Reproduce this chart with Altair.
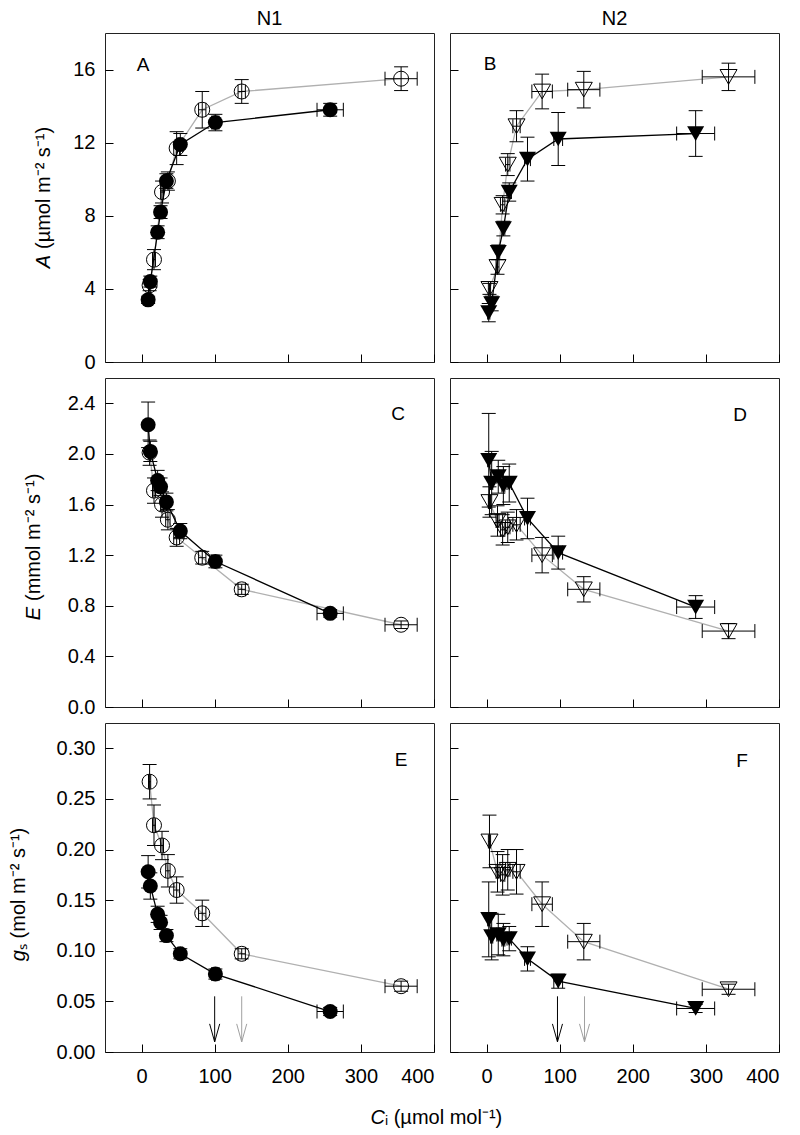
import altair as alt
import pandas as pd

# ---------------- data ----------------
# N1 -- filled circles (black line)
n1f_ci = [9, 12, 22, 26, 34, 53, 101, 258]
n1f_ci_err = [1.5, 1.5, 2, 2, 2, 3, 5, 18]
n1f_A = [3.4, 4.4, 7.1, 8.2, 9.9, 11.9, 13.1, 13.8]
n1f_A_err = [0.2, 0.3, 0.35, 0.35, 0.4, 0.6, 0.45, 0.35]
n1f_E = [2.23, 2.02, 1.79, 1.74, 1.62, 1.39, 1.15, 0.74]
n1f_E_err = [0.18, 0.08, 0.08, 0.07, 0.07, 0.06, 0.05, 0.03]
n1f_gs = [0.178, 0.164, 0.136, 0.128, 0.115, 0.097, 0.077, 0.040]
n1f_gs_err = [0.016, 0.013, 0.008, 0.007, 0.006, 0.005, 0.005, 0.004]

# N1 -- open circles (grey line)
n1o_ci = [11, 17, 28, 36, 48, 83, 137, 355]
n1o_ci_err = [1.5, 2, 2, 3, 4, 5, 5, 22]
n1o_A = [4.2, 5.6, 9.3, 9.9, 11.7, 13.8, 14.8, 15.5]
n1o_A_err = [0.3, 0.55, 0.6, 0.5, 0.9, 1.0, 0.65, 0.65]
n1o_E = [2.01, 1.71, 1.60, 1.48, 1.34, 1.18, 0.93, 0.65]
n1o_E_err = [0.1, 0.1, 0.1, 0.08, 0.07, 0.05, 0.04, 0.03]
n1o_gs = [0.267, 0.224, 0.204, 0.179, 0.160, 0.137, 0.097, 0.065]
n1o_gs_err = [0.017, 0.02, 0.014, 0.016, 0.013, 0.013, 0.005, 0.005]

# N2 -- filled triangles (black line)
n2f_ci = [3, 7, 16, 23, 31, 56, 98, 286]
n2f_ci_err = [1.5, 1.5, 2, 2, 3, 4, 6, 26]
n2f_A = [2.7, 3.2, 6.0, 7.3, 9.3, 11.1, 12.2, 12.5]
n2f_A_err = [0.5, 0.4, 0.4, 0.4, 0.5, 1.2, 1.45, 1.25]
n2f_E = [1.95, 1.77, 1.82, 1.75, 1.77, 1.49, 1.22, 0.79]
n2f_E_err = [0.37, 0.25, 0.13, 0.15, 0.15, 0.16, 0.13, 0.09]
n2f_gs = [0.131, 0.114, 0.116, 0.111, 0.112, 0.092, 0.070, 0.043]
n2f_gs_err = [0.037, 0.023, 0.02, 0.016, 0.012, 0.012, 0.007, 0.004]

# N2 -- open triangles (grey line)
n2o_ci = [4, 15, 22, 29, 41, 76, 133, 331]
n2o_ci_err = [1.5, 2, 3, 3, 5, 14, 22, 36]
n2o_A = [4.0, 5.2, 8.6, 10.8, 12.9, 14.8, 14.9, 15.6]
n2o_A_err = [0.3, 0.4, 0.5, 0.6, 0.85, 0.95, 1.0, 0.75]
n2o_E = [1.62, 1.47, 1.40, 1.42, 1.44, 1.20, 0.93, 0.60]
n2o_E_err = [0.12, 0.12, 0.12, 0.12, 0.12, 0.14, 0.1, 0.06]
n2o_gs = [0.208, 0.178, 0.175, 0.180, 0.178, 0.146, 0.109, 0.062]
n2o_gs_err = [0.026, 0.02, 0.02, 0.02, 0.022, 0.022, 0.018, 0.005]

# arrows in the gs panels (Ci positions; arrow from top to tip in gs units)
arrow_series = ["filled", "open"]
arrow_ci_n1 = [100, 137]
arrow_ci_n2 = [97, 134]
arrow_top = [0.055, 0.055]
arrow_tip = [0.010, 0.010]

x_ticks = [0, 100, 200, 300, 400]
A_ticks = [0, 4, 8, 12, 16]
E_ticks = [0, 0.4, 0.8, 1.2, 1.6, 2.0, 2.4]
gs_ticks = [0, 0.05, 0.10, 0.15, 0.20, 0.25, 0.30]

# ---------------- styling ----------------
FONT = "Liberation Sans"
LFS = 20   # tick labels
TFS = 20   # titles / headers
W = 329
H = 329
XDOM = [-50, 400]
GREY = "#b0b0b0"
COLS = alt.Scale(domain=["filled", "open"], range=["#000000", "#a0a0a0"])
CAP = 7
NB = "\u00a0"


def sdf(ci, ci_err, y, y_err, name):
    return pd.DataFrame({
        "ci": ci,
        "y": y,
        "ci_lo": [c - e for c, e in zip(ci, ci_err)],
        "ci_hi": [c + e for c, e in zip(ci, ci_err)],
        "y_lo": [v - e for v, e in zip(y, y_err)],
        "y_hi": [v + e for v, e in zip(y, y_err)],
        "series": name,
    })


def txt(t, **kw):
    opts = dict(font=FONT, fontSize=TFS, color="black")
    opts.update(kw)
    return alt.Chart(pd.DataFrame({"t": [t]})).mark_text(text=t, **opts)


def panel(df_f, df_o, shape, size, ydom, yvals, yfmt, left, bottom, letter, lpos,
          ytitle=None, header=None, arrows=None, xtitle=False):
    xax = alt.Axis(values=x_ticks, labels=bottom, title=None, offset=-8, tickSize=8,
                   labelPadding=14, format="d")
    yax = alt.Axis(values=yvals, labels=left, title=None, offset=-8, tickSize=8,
                   labelPadding=10, format=yfmt)
    xs = alt.Scale(domain=XDOM, nice=False, zero=False)
    ys = alt.Scale(domain=ydom, nice=False, zero=False)

    def X(f):
        return alt.X(f, type="quantitative", scale=xs, axis=xax)

    def Y(f):
        return alt.Y(f, type="quantitative", scale=ys, axis=yax)

    both = pd.concat([df_o, df_f], ignore_index=True)
    layers = []
    layers.append(alt.Chart(df_o).mark_line(color=GREY, strokeWidth=1.3).encode(x=X("ci"), y=Y("y")))
    layers.append(alt.Chart(df_f).mark_line(color="black", strokeWidth=1.3).encode(x=X("ci"), y=Y("y")))
    b = alt.Chart(both)
    # vertical error bars
    layers.append(b.mark_rule(color="black", strokeWidth=1).encode(x=X("ci"), y=Y("y_lo"), y2="y_hi"))
    layers.append(b.transform_fold(["y_lo", "y_hi"], as_=["k", "v"])
                  .mark_rule(color="black", strokeWidth=1, xOffset=-CAP, x2Offset=CAP)
                  .encode(x=X("ci"), x2="ci", y=Y("v:Q")))
    # horizontal error bars
    layers.append(b.mark_rule(color="black", strokeWidth=1).encode(x=X("ci_lo"), x2="ci_hi", y=Y("y")))
    layers.append(b.transform_fold(["ci_lo", "ci_hi"], as_=["k", "v"])
                  .mark_rule(color="black", strokeWidth=1, yOffset=-CAP, y2Offset=CAP)
                  .encode(x=X("v:Q"), y=Y("y"), y2="y"))
    # markers
    layers.append(alt.Chart(df_o).mark_point(shape=shape, filled=False, size=size, color="black",
                                             strokeWidth=1, opacity=1).encode(x=X("ci"), y=Y("y")))
    layers.append(alt.Chart(df_f).mark_point(shape=shape, filled=True, size=size, color="black",
                                             opacity=1).encode(x=X("ci"), y=Y("y")))
    if arrows is not None:
        adf = pd.DataFrame({"ci": arrows, "top": arrow_top, "tip": arrow_tip, "series": arrow_series})
        ac = alt.Chart(adf)
        col = alt.Color("series:N", scale=COLS, legend=None)
        layers.append(ac.mark_rule(strokeWidth=1).encode(x=X("ci"), y=Y("top"), y2="tip", color=col))
        layers.append(ac.mark_point(shape="M-0.28,-1L0,0L0.28,-1", size=1296, filled=False,
                                    strokeWidth=1, opacity=1).encode(x=X("ci"), y=Y("tip"), color=col))
    # panel letter
    layers.append(txt(letter, align="center", baseline="middle", fontSize=19)
                  .encode(x=alt.value(lpos[0]), y=alt.value(lpos[1])))
    if ytitle is not None:
        it, rest, xpos, pos, gap = ytitle
        layers.append(txt(it, align="right", baseline="middle", angle=270, fontStyle="italic")
                      .encode(x=alt.value(xpos), y=alt.value(pos + gap)))
        layers.append(txt(rest, align="left", baseline="middle", angle=270)
                      .encode(x=alt.value(xpos), y=alt.value(pos)))
    if header is not None:
        layers.append(txt(header, align="center", baseline="middle")
                      .encode(x=alt.value(W / 2), y=alt.value(-14)))
    if xtitle:
        layers.append(txt("C", align="right", baseline="middle", fontStyle="italic")
                      .encode(x=alt.value(280), y=alt.value(395)))
        layers.append(txt("\u1d62" + NB + "(\u00b5mol" + NB + "mol\u207b\u00b9)", align="left",
                          baseline="middle")
                      .encode(x=alt.value(280), y=alt.value(395)))
    return alt.layer(*layers).properties(width=W, height=H)


UNIT_A = "(\u00b5mol" + NB + "m\u207b\u00b2" + NB + "s\u207b\u00b9)"
UNIT_E = "(mmol" + NB + "m\u207b\u00b2" + NB + "s\u207b\u00b9)"
UNIT_G = "\u209b" + NB + "(mol" + NB + "m\u207b\u00b2" + NB + "s\u207b\u00b9)"

n1A = panel(sdf(n1f_ci, n1f_ci_err, n1f_A, n1f_A_err, "filled"),
            sdf(n1o_ci, n1o_ci_err, n1o_A, n1o_A_err, "open"),
            "circle", 225, [0, 18], A_ticks, "d", True, False, "A", (38, 32),
            ytitle=("A", UNIT_A, -61, 216, 6), header="N1")
n2A = panel(sdf(n2f_ci, n2f_ci_err, n2f_A, n2f_A_err, "filled"),
            sdf(n2o_ci, n2o_ci_err, n2o_A, n2o_A_err, "open"),
            "triangle-down", 289, [0, 18], A_ticks, "d", False, False, "B", (40, 31), header="N2")
n1E = panel(sdf(n1f_ci, n1f_ci_err, n1f_E, n1f_E_err, "filled"),
            sdf(n1o_ci, n1o_ci_err, n1o_E, n1o_E_err, "open"),
            "circle", 225, [0, 2.6], E_ticks, ".1f", True, False, "C", (293, 36),
            ytitle=("E", UNIT_E, -71, 223, 6))
n2E = panel(sdf(n2f_ci, n2f_ci_err, n2f_E, n2f_E_err, "filled"),
            sdf(n2o_ci, n2o_ci_err, n2o_E, n2o_E_err, "open"),
            "triangle-down", 289, [0, 2.6], E_ticks, ".1f", False, False, "D", (290, 37))
n1g = panel(sdf(n1f_ci, n1f_ci_err, n1f_gs, n1f_gs_err, "filled"),
            sdf(n1o_ci, n1o_ci_err, n1o_gs, n1o_gs_err, "open"),
            "circle", 225, [0, 0.325], gs_ticks, ".2f", True, True, "E", (296, 37),
            ytitle=("g", UNIT_G, -86, 227, 0), arrows=arrow_ci_n1, xtitle=True)
n2g = panel(sdf(n2f_ci, n2f_ci_err, n2f_gs, n2f_gs_err, "filled"),
            sdf(n2o_ci, n2o_ci_err, n2o_gs, n2o_gs_err, "open"),
            "triangle-down", 289, [0, 0.325], gs_ticks, ".2f", False, True, "F", (292, 38),
            arrows=arrow_ci_n2)

chart = (
    alt.concat(n1A, n2A, n1E, n2E, n1g, n2g, columns=2, spacing=16, bounds="flush")
    .properties(padding={"left": 0, "top": 0, "right": 0, "bottom": 0})
    .configure_view(stroke="#222222", strokeWidth=1)
    .configure_axis(labelFont=FONT, labelFontSize=LFS, labelColor="black", tickColor="black",
                    tickWidth=1, domain=False, grid=False)
)
chart.save("out.html", embed_options={"renderer": "svg", "actions": False})
